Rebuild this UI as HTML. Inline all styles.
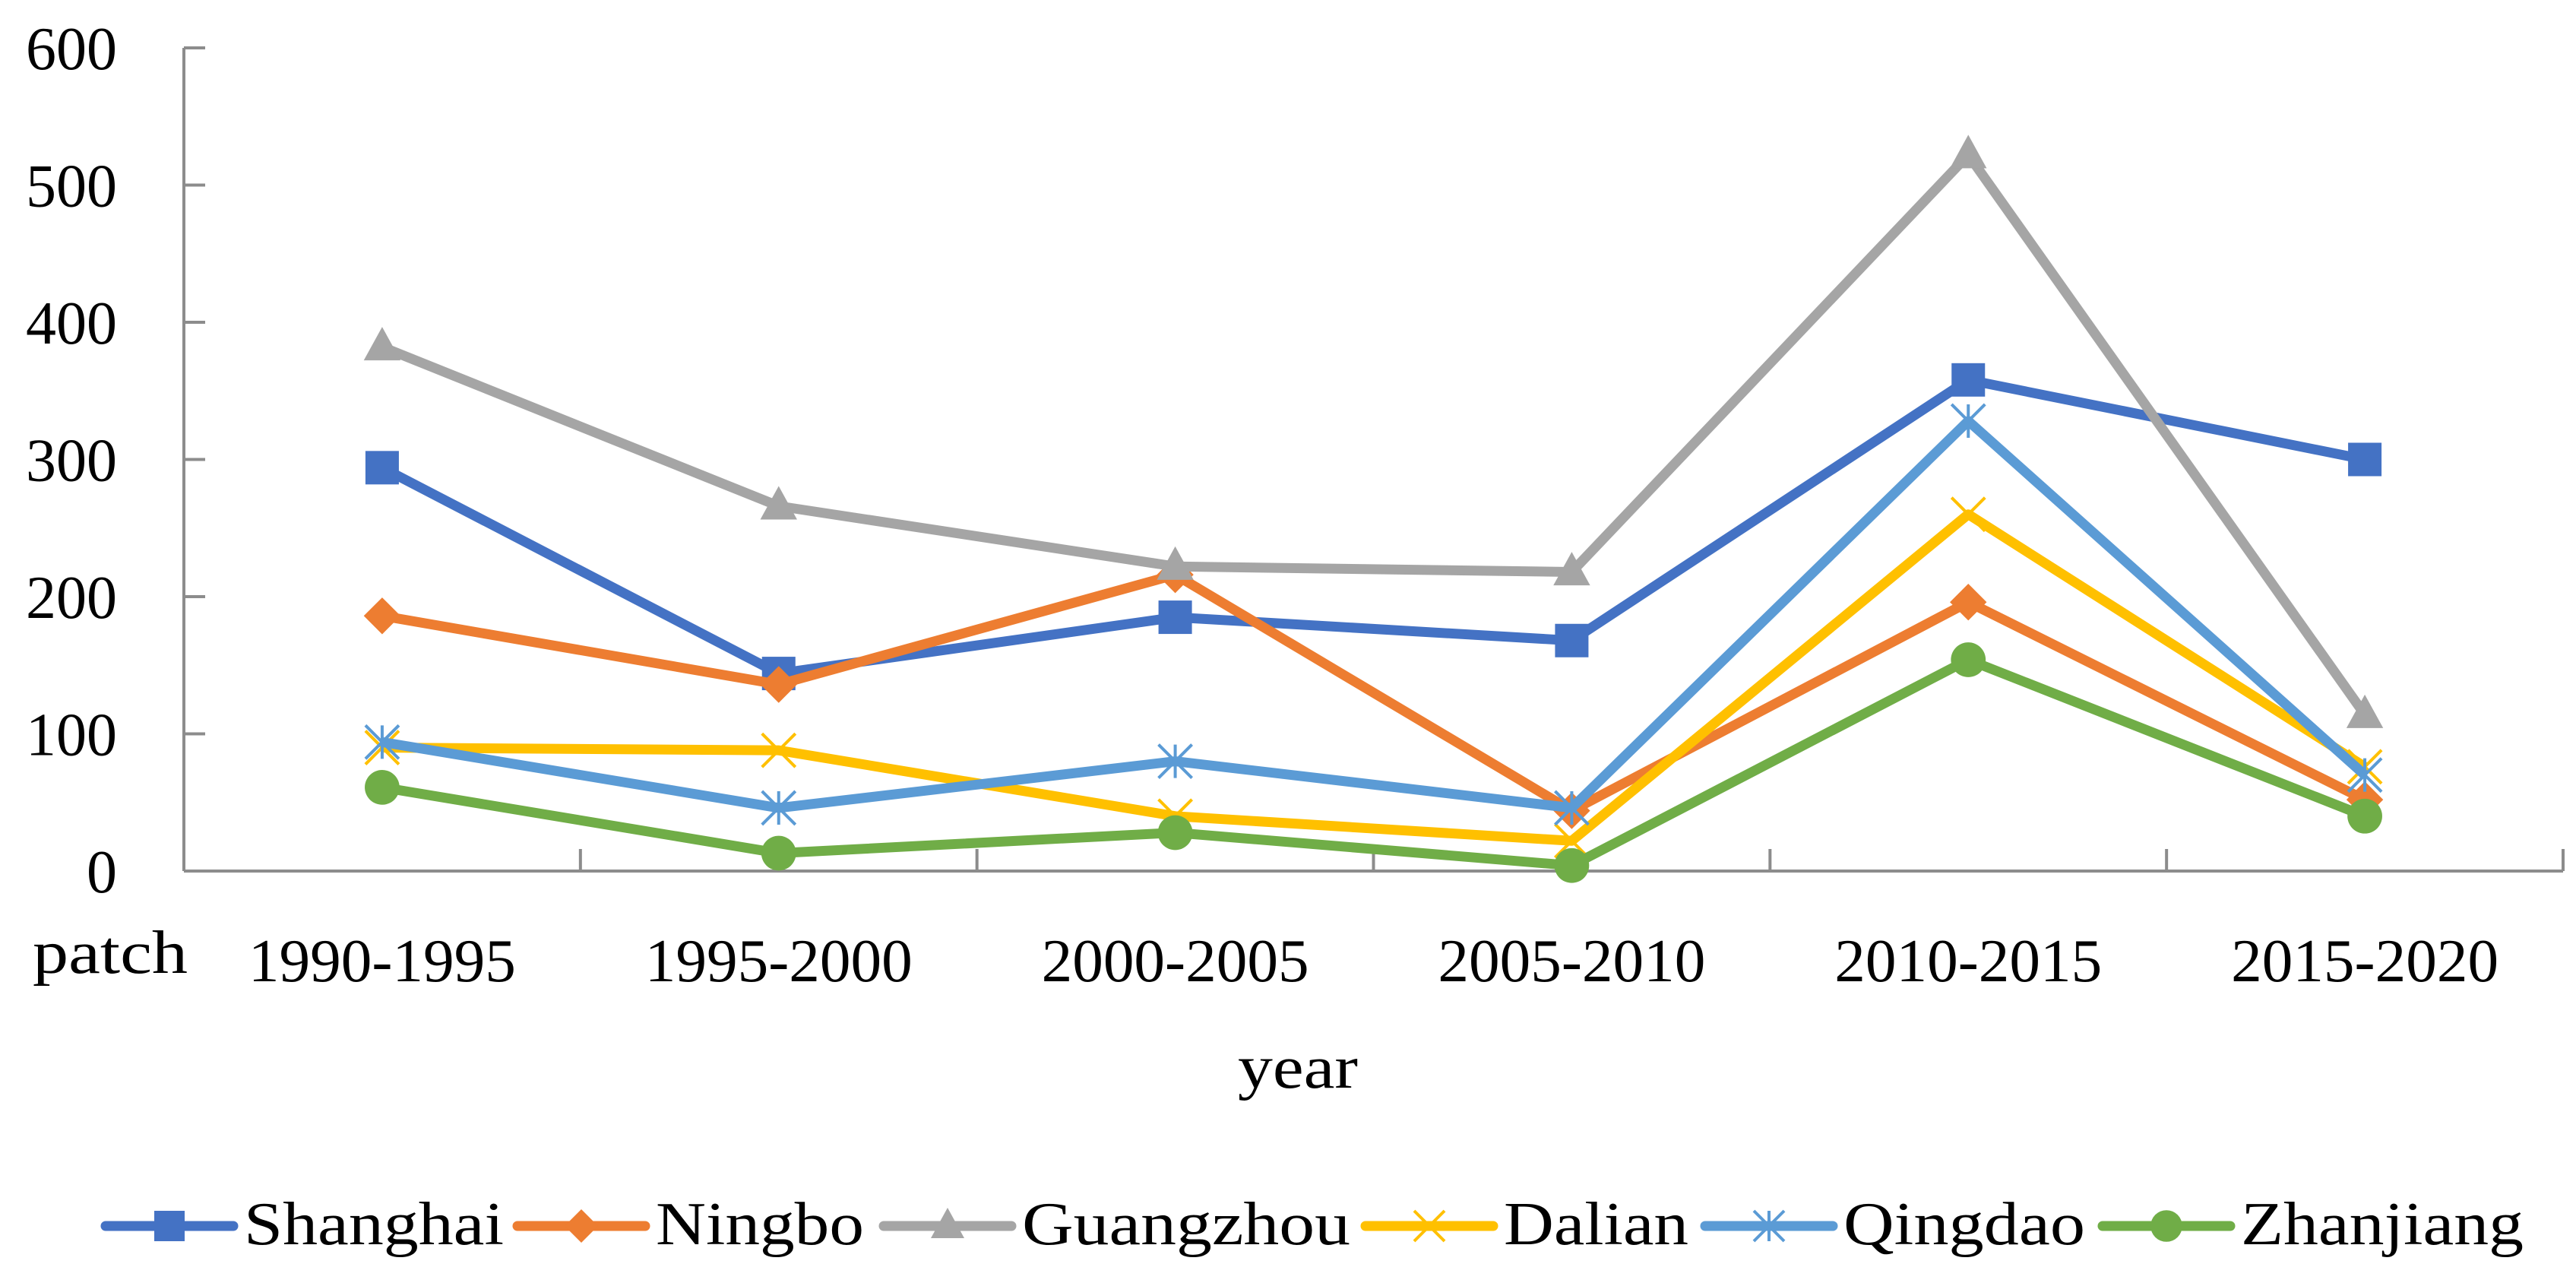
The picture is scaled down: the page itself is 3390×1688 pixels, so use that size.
<!DOCTYPE html>
<html><head><meta charset="utf-8"><style>
html,body{margin:0;padding:0;background:#fff;}
svg{display:block;font-family:"Liberation Serif",serif;}
</style></head>
<body>
<svg id="chart" width="3390" height="1688" viewBox="0 0 3390 1688" xmlns="http://www.w3.org/2000/svg"></svg>
<script>
const categories = ["1990-1995","1995-2000","2000-2005","2005-2010","2010-2015","2015-2020"];
const yTicks = [0,100,200,300,400,500,600];
const seriesNames = ["Shanghai","Ningbo","Guangzhou","Dalian","Qingdao","Zhanjiang"];
const shanghai = [294,144,185,168,358,300];
const ningbo = [186,136,216,44,196,52];
const guangzhou = [382,266,222,218,522,114];
const dalian = [90,88,40,22,260,76];
const qingdao = [94,46,80,46,328,70];
const zhanjiang = [61,13,28,4,154,40];

const svg = document.getElementById('chart');
const NS = 'http://www.w3.org/2000/svg';
const X0 = 242, X1 = 3373, Y0 = 1146, Y600 = 63;
const catW = (X1 - X0) / categories.length;
function xPos(i){ return X0 + catW * (i + 0.5); }
function yPos(v){ return Y0 - (v / 600) * (Y0 - Y600); }
function mk(tag, attrs, parent){
  const e = document.createElementNS(NS, tag);
  for (const k in attrs) e.setAttribute(k, attrs[k]);
  (parent || svg).appendChild(e);
  return e;
}
const colors = ["#4472C4","#ED7D31","#A5A5A5","#FFC000","#5B9BD5","#70AD47"];
const markers = ["square","diamond","triangle","x","star","circle"];
const allData = [shanghai, ningbo, guangzhou, dalian, qingdao, zhanjiang];

const axis = mk('g', {});


const yAxis = mk('line', {x1:X0, y1:yPos(600), x2:X0, y2:Y0, stroke:'#8c8c8c', 'stroke-width':4}, axis);


const xAxis = mk('line', {x1:X0, y1:Y0, x2:X1, y2:Y0, stroke:'#8c8c8c', 'stroke-width':4}, axis);


yTicks.forEach(t => {
  const y = yPos(t);
  const tk = mk('line', {x1:X0, y1:y, x2:X0 + 28, y2:y, stroke:'#8c8c8c', 'stroke-width':4}, axis);
  
  
  const lb = mk('text', {x:154, y:y + 28, 'text-anchor':'end', 'font-size':80, fill:'#000'}, axis);
  
  
  lb.textContent = t;
});
for (let i = 0; i <= categories.length; i++) {
  const x = X0 + catW * i;
  const tk = mk('line', {x1:x, y1:Y0, x2:x, y2:Y0 - 29, stroke:'#8c8c8c', 'stroke-width':4}, axis);
  
  
}
categories.forEach((c, i) => {
  const lb = mk('text', {x:xPos(i), y:1291, 'text-anchor':'middle', 'font-size':80, fill:'#000', textLength:352, lengthAdjust:'spacingAndGlyphs'}, axis);
  
  
  lb.textContent = c;
});
const yt = mk('text', {x:43, y:1280, 'font-size':80, fill:'#000', textLength:204, lengthAdjust:'spacingAndGlyphs'});


yt.textContent = 'patch';
const xt = mk('text', {x:1708, y:1431, 'text-anchor':'middle', 'font-size':80, fill:'#000', textLength:158, lengthAdjust:'spacingAndGlyphs'});


xt.textContent = 'year';

function drawMarker(type, cx, cy, color, size, parent){
  const s = size;
  let m;
  if (type === 'square') m = mk('rect', {x:cx - s/2, y:cy - s/2, width:s, height:s, fill:color}, parent);
  else if (type === 'diamond') m = mk('polygon', {points:`${cx},${cy - s*0.55} ${cx + s*0.55},${cy} ${cx},${cy + s*0.55} ${cx - s*0.55},${cy}`, fill:color}, parent);
  else if (type === 'triangle') m = mk('polygon', {points:`${cx},${cy - s*0.6} ${cx + s*0.55},${cy + s*0.4} ${cx - s*0.55},${cy + s*0.4}`, fill:color}, parent);
  else if (type === 'circle') m = mk('circle', {cx:cx, cy:cy, r:s*0.52, fill:color}, parent);
  else if (type === 'x') {
    m = mk('path', {d:`M${cx - s/2},${cy - s/2}L${cx + s/2},${cy + s/2}M${cx + s/2},${cy - s/2}L${cx - s/2},${cy + s/2}`, stroke:color, 'stroke-width':4, fill:'none'}, parent);
  } else {
    m = mk('path', {d:`M${cx - s/2},${cy - s/2}L${cx + s/2},${cy + s/2}M${cx + s/2},${cy - s/2}L${cx - s/2},${cy + s/2}M${cx},${cy - s/2}L${cx},${cy + s/2}`, stroke:color, 'stroke-width':4, fill:'none'}, parent);
  }
  return m;
}

allData.forEach((data, si) => {
  const g = mk('g', {});
  
  
  const pts = data.map((v, i) => xPos(i) + ',' + yPos(v)).join(' ');
  const pl = mk('polyline', {points:pts, fill:'none', stroke:colors[si], 'stroke-width':13, 'stroke-linejoin':'round'}, g);
  
  
  data.forEach((v, i) => {
    const m = drawMarker(markers[si], xPos(i), yPos(v), colors[si], 44, g);
    
    
  });
});

const legendLineX = [139, 681, 1163, 1797, 2244, 2767];
const legendTextW = [342, 274, 432, 243, 318, 372];
const lg = mk('g', {});


seriesNames.forEach((n, si) => {
  const e = mk('g', {}, lg);
  
  
  const lx = legendLineX[si];
  mk('line', {x1:lx, y1:1613, x2:lx + 168, y2:1613, stroke:colors[si], 'stroke-width':13, 'stroke-linecap':'round'}, e);
  drawMarker(markers[si], lx + 84, 1613, colors[si], 40, e);
  const t = mk('text', {x:lx + 182, y:1637, 'font-size':80, fill:'#000', textLength:legendTextW[si], lengthAdjust:'spacingAndGlyphs'}, e);
  
  
  t.textContent = n;
});
</script>
</body></html>
